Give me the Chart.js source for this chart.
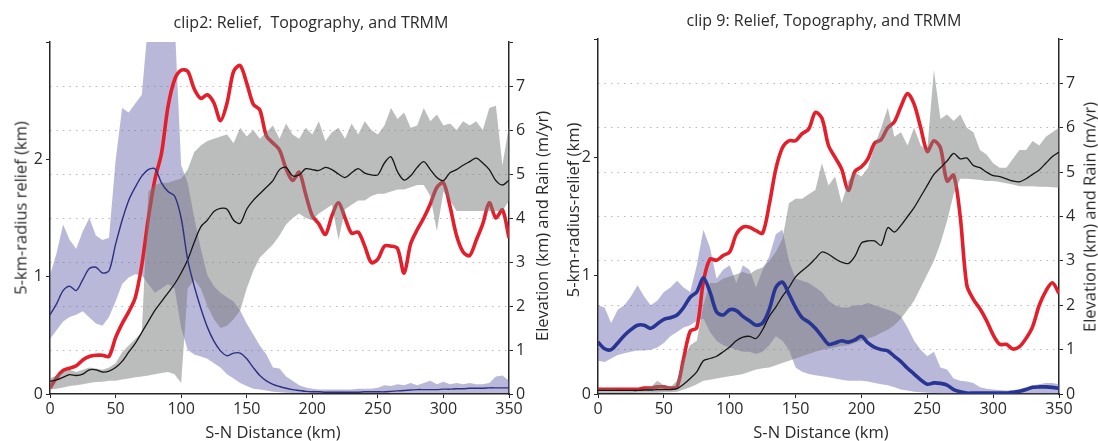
<!DOCTYPE html>
<html>
<head>
<meta charset="utf-8">
<script src="https://cdn.jsdelivr.net/npm/chart.js@4.4.0/dist/chart.umd.min.js"></script>
<style>
  body { margin: 0; background: #fff; }
  #wrap { position: relative; width: 1098px; height: 441px; overflow: hidden;
          font-family: "Open Sans", "DejaVu Sans", sans-serif; color: #2b2b2b; }
  canvas { position: absolute; top: 0; }
  .t { position: absolute; white-space: pre; transform: translate(-50%, -50%); font-size: 16px; }
  .v { transform: translate(-50%, -50%) rotate(-90deg); font-size: 16.5px; }
  .ax { font-size: 16.5px; }
</style>
</head>
<body>
<div id="wrap">
  <canvas id="clip2" width="549" height="441" style="left:0px"></canvas>
  <canvas id="clip9" width="549" height="441" style="left:549px"></canvas>

  <div class="t" style="left:311px;top:22px">clip2: Relief,  Topography, and TRMM</div>
  <div class="t" style="left:824px;top:20px">clip 9: Relief, Topography, and TRMM</div>

  <div class="t ax" style="left:273px;top:431px">S-N Distance (km)</div>
  <div class="t ax" style="left:821px;top:431px">S-N Distance (km)</div>

  <div class="t v" style="left:20px;top:208px">5-km-radius relief (km)</div>
  <div class="t v" style="left:541px;top:226px">Elevation (km) and Rain (m/yr)</div>
  <div class="t v" style="left:572px;top:210px">5-km-radius-relief (km)</div>
  <div class="t v" style="left:1089px;top:217px">Elevation (km) and Rain (m/yr)</div>
</div>

<script>
// distance along the swath (km)
const DIST = [0, 5, 10, 15, 20, 25, 30, 35, 40, 45, 50, 55, 60, 65, 70, 75, 80, 85, 90, 95,
  100, 105, 110, 115, 120, 125, 130, 135, 140, 145, 150, 155, 160, 165, 170, 175, 180, 185, 190, 195,
  200, 205, 210, 215, 220, 225, 230, 235, 240, 245, 250, 255, 260, 265, 270, 275, 280, 285, 290, 295,
  300, 305, 310, 315, 320, 325, 330, 335, 340, 345, 350];

// ---- clip 2 ----
// relief (km, left axis)
const relief2 = [0.05, 0.14, 0.20, 0.22, 0.24, 0.29, 0.32, 0.33, 0.33, 0.32,
  0.48, 0.60, 0.70, 0.82, 1.10, 1.50, 1.83, 2.05, 2.45, 2.68,
  2.76, 2.75, 2.60, 2.52, 2.55, 2.48, 2.33, 2.48, 2.75, 2.80,
  2.65, 2.47, 2.42, 2.20, 2.14, 2.08, 1.92, 1.82, 1.89, 1.70,
  1.52, 1.45, 1.36, 1.52, 1.63, 1.50, 1.37, 1.38, 1.26, 1.12,
  1.15, 1.26, 1.26, 1.24, 1.03, 1.28, 1.40, 1.50, 1.62, 1.76,
  1.80, 1.60, 1.35, 1.21, 1.18, 1.31, 1.45, 1.63, 1.50, 1.57,
  1.33];
// mean elevation (km, right axis) and its min / max
const elev2 = [0.29, 0.32, 0.38, 0.44, 0.42, 0.45, 0.55, 0.55, 0.50, 0.52,
  0.60, 0.74, 0.95, 1.15, 1.40, 1.65, 1.90, 2.10, 2.30, 2.50,
  2.75, 3.05, 3.45, 3.80, 3.95, 4.15, 4.22, 4.20, 3.95, 3.88,
  4.20, 4.40, 4.55, 4.70, 4.85, 5.10, 5.15, 4.96, 4.98, 5.12,
  5.10, 5.08, 5.15, 5.10, 5.00, 4.92, 5.03, 5.12, 5.02, 4.98,
  4.98, 5.25, 5.39, 5.05, 4.86, 4.96, 5.15, 5.28, 5.10, 4.92,
  4.85, 5.03, 5.10, 5.20, 5.28, 5.36, 5.25, 5.10, 4.85, 4.75,
  4.86];
const elevMin2 = [0.10, 0.12, 0.15, 0.18, 0.20, 0.22, 0.25, 0.27, 0.28, 0.30,
  0.30, 0.33, 0.35, 0.38, 0.40, 0.42, 0.45, 0.48, 0.50, 0.45,
  0.25, 2.40, 2.60, 2.40, 2.00, 1.70, 1.50, 1.55, 1.70, 1.90,
  2.40, 2.80, 3.10, 3.25, 3.40, 3.60, 3.85, 4.00, 4.10, 4.00,
  3.95, 4.10, 4.20, 4.30, 3.50, 4.20, 4.30, 4.40, 4.40, 4.50,
  4.55, 4.55, 4.60, 4.65, 4.65, 4.70, 4.75, 4.75, 4.50, 3.70,
  4.60, 4.40, 4.16, 4.16, 4.16, 4.16, 4.16, 4.16, 4.16, 4.16,
  4.40];
const elevMax2 = [0.35, 0.42, 0.50, 0.55, 0.50, 0.55, 0.60, 0.58, 0.55, 0.60,
  0.70, 0.95, 1.10, 1.25, 1.40, 4.60, 4.75, 4.80, 4.80, 4.85,
  4.90, 5.10, 5.50, 5.65, 5.75, 5.80, 5.85, 5.90, 5.70, 6.05,
  5.85, 6.00, 5.80, 5.95, 6.10, 5.80, 6.15, 5.90, 5.80, 6.05,
  5.90, 6.20, 5.75, 5.95, 6.05, 5.80, 6.15, 5.90, 6.20, 6.00,
  5.90, 6.10, 6.50, 6.25, 6.40, 6.05, 6.10, 6.50, 6.20, 6.35,
  6.10, 6.15, 6.00, 6.20, 6.10, 6.20, 6.00, 6.50, 6.55, 5.20,
  6.10];
// TRMM rain (m/yr, right axis) and its min / max
const rain2 = [1.80, 2.05, 2.35, 2.45, 2.35, 2.60, 2.85, 2.88, 2.75, 2.80,
  3.40, 3.95, 4.40, 4.70, 4.95, 5.10, 5.12, 4.80, 4.60, 4.50,
  4.00, 3.05, 2.45, 1.95, 1.52, 1.20, 0.98, 0.87, 0.93, 0.93,
  0.80, 0.60, 0.42, 0.30, 0.22, 0.17, 0.13, 0.10, 0.08, 0.06,
  0.05, 0.05, 0.04, 0.04, 0.04, 0.04, 0.04, 0.04, 0.05, 0.05,
  0.05, 0.05, 0.06, 0.07, 0.08, 0.09, 0.10, 0.10, 0.10, 0.10,
  0.11, 0.11, 0.12, 0.12, 0.13, 0.13, 0.13, 0.14, 0.14, 0.14,
  0.14];
const rainMin2 = [1.25, 1.45, 1.65, 1.75, 1.80, 1.88, 1.74, 1.60, 1.55, 1.75,
  2.10, 2.50, 2.65, 2.72, 2.70, 2.50, 2.30, 2.40, 2.50, 2.40,
  1.50, 1.00, 0.90, 0.85, 0.80, 0.70, 0.60, 0.45, 0.35, 0.25,
  0.18, 0.12, 0.10, 0.08, 0.05, 0.04, 0.03, 0.02, 0.02, 0.02,
  0.02, 0.02, 0.02, 0.02, 0.02, 0.02, 0.02, 0.02, 0.02, 0.02,
  0.02, 0.02, 0.02, 0.02, 0.02, 0.02, 0.02, 0.02, 0.02, 0.02,
  0.02, 0.02, 0.02, 0.02, 0.02, 0.02, 0.02, 0.02, 0.02, 0.02,
  0.02];
const rainMax2 = [2.70, 3.20, 3.85, 3.50, 3.30, 3.70, 4.00, 3.60, 3.50, 3.55,
  5.30, 6.50, 6.40, 6.60, 6.80, 8.50, 8.50, 8.50, 8.50, 8.50,
  5.20, 4.80, 4.00, 3.30, 2.70, 2.45, 2.30, 2.20, 2.10, 1.90,
  1.60, 1.35, 1.10, 0.90, 0.60, 0.58, 0.40, 0.30, 0.20, 0.15,
  0.12, 0.10, 0.10, 0.10, 0.10, 0.10, 0.10, 0.12, 0.12, 0.12,
  0.14, 0.20, 0.18, 0.22, 0.20, 0.25, 0.20, 0.25, 0.30, 0.22,
  0.28, 0.22, 0.25, 0.22, 0.25, 0.22, 0.22, 0.25, 0.40, 0.42,
  0.30];

// ---- clip 9 ----
const relief9 = [0.04, 0.04, 0.04, 0.04, 0.04, 0.04, 0.04, 0.05, 0.05, 0.06,
  0.06, 0.05, 0.06, 0.30, 0.53, 0.56, 0.95, 1.14, 1.13, 1.17,
  1.20, 1.35, 1.41, 1.41, 1.38, 1.36, 1.60, 1.90, 2.08, 2.14,
  2.14, 2.20, 2.24, 2.38, 2.33, 2.10, 2.00, 1.90, 1.72, 1.88,
  1.92, 1.99, 2.12, 2.15, 2.25, 2.30, 2.43, 2.54, 2.45, 2.25,
  2.05, 2.14, 2.08, 1.80, 1.85, 1.50, 0.92, 0.80, 0.72, 0.62,
  0.50, 0.42, 0.42, 0.38, 0.40, 0.47, 0.57, 0.75, 0.87, 0.94,
  0.85];
const elev9 = [0.08, 0.08, 0.08, 0.08, 0.08, 0.08, 0.08, 0.09, 0.09, 0.10,
  0.10, 0.10, 0.12, 0.22, 0.35, 0.50, 0.75, 0.80, 0.85, 0.95,
  1.06, 1.20, 1.28, 1.30, 1.25, 1.45, 1.75, 1.96, 2.20, 2.40,
  2.64, 2.78, 2.90, 3.05, 3.20, 3.15, 3.05, 2.97, 2.94, 3.10,
  3.40, 3.45, 3.45, 3.35, 3.75, 3.65, 3.80, 4.00, 4.20, 4.45,
  4.70, 4.95, 5.10, 5.25, 5.42, 5.30, 5.32, 5.15, 5.10, 5.00,
  4.92, 4.90, 4.85, 4.80, 4.78, 4.85, 4.95, 5.05, 5.20, 5.35,
  5.45];
const elevMin9 = [0.02, 0.02, 0.02, 0.02, 0.02, 0.02, 0.03, 0.03, 0.03, 0.03,
  0.04, 0.04, 0.05, 0.10, 0.15, 0.22, 0.30, 0.32, 0.35, 0.38,
  0.40, 0.42, 0.45, 0.50, 0.55, 0.58, 0.60, 0.65, 0.70, 0.75,
  0.80, 0.85, 0.90, 0.95, 1.00, 1.02, 1.05, 1.08, 1.10, 1.15,
  1.20, 1.25, 1.30, 1.38, 1.45, 1.55, 1.70, 1.90, 2.10, 2.40,
  2.70, 3.00, 3.40, 3.90, 4.50, 4.85, 4.85, 4.84, 4.82, 4.80,
  4.80, 4.78, 4.75, 4.72, 4.68, 4.68, 4.68, 4.67, 4.67, 4.66,
  4.65];
const elevMax9 = [0.12, 0.12, 0.12, 0.10, 0.10, 0.10, 0.10, 0.12, 0.15, 0.30,
  0.20, 0.15, 0.30, 0.80, 1.10, 1.20, 2.00, 2.50, 2.50, 2.60,
  2.65, 2.70, 2.75, 2.70, 2.80, 2.85, 3.00, 3.20, 3.50, 4.30,
  4.40, 4.40, 4.50, 4.60, 5.20, 4.70, 4.90, 4.30, 4.80, 5.00,
  4.90, 5.10, 5.60, 6.00, 6.45, 5.80, 5.90, 5.60, 6.00, 5.60,
  5.50, 7.30, 6.20, 6.30, 6.15, 6.30, 6.00, 5.90, 5.50, 5.40,
  5.20, 5.10, 5.10, 5.30, 5.50, 5.50, 5.70, 5.60, 5.80, 5.90,
  6.00];
const rain9 = [1.17, 1.02, 1.00, 1.15, 1.32, 1.45, 1.55, 1.55, 1.48, 1.58,
  1.68, 1.72, 1.78, 1.95, 2.18, 2.30, 2.62, 2.30, 1.85, 1.78,
  1.90, 1.88, 1.75, 1.65, 1.55, 1.60, 1.90, 2.40, 2.52, 2.25,
  1.95, 1.72, 1.62, 1.48, 1.30, 1.12, 1.15, 1.20, 1.17, 1.22,
  1.30, 1.15, 1.05, 1.00, 0.97, 0.85, 0.73, 0.58, 0.45, 0.32,
  0.22, 0.25, 0.24, 0.20, 0.10, 0.05, 0.02, 0.02, 0.02, 0.02,
  0.02, 0.02, 0.02, 0.04, 0.06, 0.10, 0.15, 0.16, 0.16, 0.15,
  0.13];
const rainMin9 = [0.75, 0.72, 0.80, 0.88, 0.92, 0.95, 0.98, 0.98, 1.00, 1.05,
  1.15, 1.30, 1.40, 1.50, 1.55, 1.65, 1.70, 1.40, 1.20, 1.10,
  1.05, 1.00, 0.95, 0.95, 0.90, 0.95, 1.10, 1.30, 1.20, 1.00,
  0.60, 0.50, 0.45, 0.42, 0.40, 0.38, 0.35, 0.32, 0.30, 0.30,
  0.30, 0.28, 0.25, 0.22, 0.20, 0.15, 0.10, 0.08, 0.05, 0.04,
  0.03, 0.02, 0.01, 0.01, 0.01, 0.01, 0.01, 0.01, 0.01, 0.01,
  0.01, 0.01, 0.01, 0.01, 0.01, 0.01, 0.01, 0.01, 0.01, 0.01,
  0.01];
const rainMax9 = [2.00, 1.95, 1.60, 1.90, 2.00, 2.20, 2.45, 2.20, 2.00, 2.10,
  2.30, 2.40, 2.55, 2.40, 2.30, 2.90, 3.70, 3.30, 2.60, 2.80,
  2.90, 2.50, 2.90, 2.80, 2.40, 2.80, 3.10, 3.60, 3.70, 3.00,
  2.60, 2.55, 2.50, 2.40, 2.30, 2.10, 2.00, 1.95, 1.95, 2.00,
  2.00, 2.05, 2.00, 1.95, 1.90, 1.85, 1.75, 1.50, 1.20, 1.00,
  0.85, 0.95, 0.60, 0.55, 0.35, 0.30, 0.28, 0.25, 0.15, 0.12,
  0.10, 0.09, 0.08, 0.09, 0.10, 0.15, 0.20, 0.22, 0.25, 0.25,
  0.22];

const TXT = '#2b2b2b';
const AXIS = '#262626';
const GRAY_FILL = 'rgba(120,122,122,0.5)';
const BLUE_FILL = 'rgba(95,90,165,0.43)';

Chart.defaults.font.family = '"Open Sans", "DejaVu Sans", sans-serif';
Chart.defaults.font.size = 16;
Chart.defaults.color = TXT;

const pts = vals => DIST.map((d, i) => ({ x: d, y: vals[i] }));

function line(vals, axis, color, width, order) {
    return {
        data: pts(vals), yAxisID: axis, borderColor: color, borderWidth: width,
        pointRadius: 0, tension: 0.3, fill: false, order: order
    };
}

function bandEdge(vals, order, fillColor) {
    return {
        data: pts(vals), yAxisID: 'yR', borderWidth: 0, pointRadius: 0, tension: 0,
        backgroundColor: fillColor || 'transparent', fill: fillColor ? '-1' : false, order: order
    };
}

function drawPanel(id, d, leftW, rightW, top) {
    const ctx = document.getElementById(id).getContext('2d');
    return new Chart(ctx, {
        type: 'line',
        data: {
            datasets: [
                bandEdge(d.rainMin, 10),
                bandEdge(d.rainMax, 10, BLUE_FILL),
                line(d.relief, 'yL', '#e21f2b', 3.6, 5),
                bandEdge(d.elevMin, 3),
                bandEdge(d.elevMax, 3, GRAY_FILL),
                line(d.elev, 'yR', '#161616', 1.3, 2),
                line(d.rain, 'yR', d.rainColor, d.rainWidth, 1)
            ]
        },
        options: {
            responsive: false,
            animation: false,
            devicePixelRatio: 1,
            layout: { padding: { top: top, left: 0, right: 0, bottom: 0 } },
            plugins: { legend: { display: false }, tooltip: { enabled: false }, filler: { propagate: false } },
            scales: {
                x: {
                    type: 'linear', min: 0, max: 350,
                    ticks: { stepSize: 50, padding: 2 },
                    grid: { drawOnChartArea: false, tickLength: 4, color: AXIS },
                    border: { color: AXIS, width: 1.5 },
                    afterFit: s => { s.height = 47; }
                },
                yL: {
                    position: 'left', min: 0, max: 3,
                    ticks: { stepSize: 1, padding: 3, callback: v => (v === 3 ? '' : v) },
                    grid: { drawOnChartArea: false, tickLength: 4, color: AXIS },
                    border: { color: AXIS, width: 1.5 },
                    afterFit: s => { s.width = leftW; }
                },
                yR: {
                    position: 'right', min: 0, max: 8,
                    ticks: { stepSize: 1, padding: 3, callback: v => (v === 8 ? '' : v) },
                    grid: {
                        drawOnChartArea: true, tickLength: 4, tickColor: AXIS, lineWidth: 1,
                        color: c => (c.tick && (c.tick.value === 0 || c.tick.value === 8)) ? 'rgba(0,0,0,0)' : '#b8b8b8'
                    },
                    border: { color: AXIS, width: 1.5, dash: [1.5, 5] },
                    afterFit: s => { s.width = rightW; }
                }
            }
        }
    });
}

drawPanel('clip2', {
    relief: relief2, elev: elev2, elevMin: elevMin2, elevMax: elevMax2,
    rain: rain2, rainMin: rainMin2, rainMax: rainMax2, rainColor: '#2e3082', rainWidth: 1.4
}, 50, 40, 42);

drawPanel('clip9', {
    relief: relief9, elev: elev9, elevMin: elevMin9, elevMax: elevMax9,
    rain: rain9, rainMin: rainMin9, rainMax: rainMax9, rainColor: '#283593', rainWidth: 3.6
}, 49, 39, 39);
</script>
</body>
</html>
